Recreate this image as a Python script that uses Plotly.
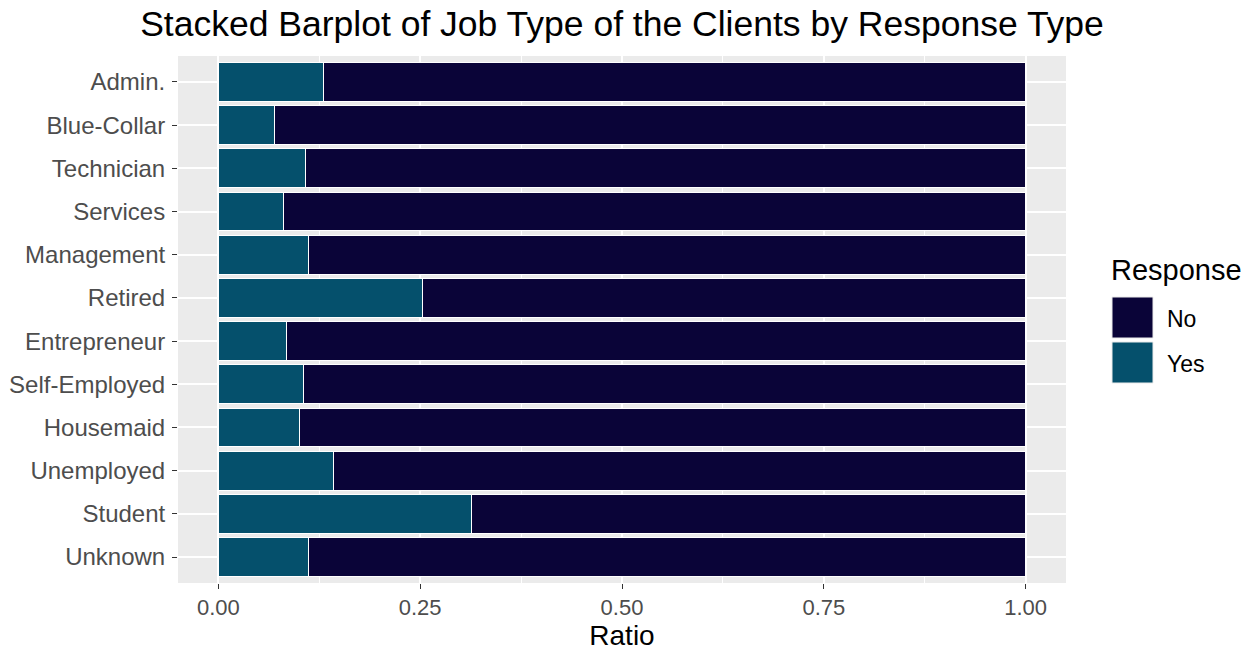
import plotly.graph_objects as go

jobs = ["Admin.", "Blue-Collar", "Technician", "Services", "Management", "Retired",
        "Entrepreneur", "Self-Employed", "Housemaid", "Unemployed", "Student", "Unknown"]
yes_ratio = [0.130, 0.069, 0.108, 0.081, 0.112, 0.253,
             0.085, 0.105, 0.100, 0.142, 0.314, 0.112]
no_ratio = [round(1 - v, 3) for v in yes_ratio]
responses = ["No", "Yes"]
colors = {"No": "#0A0438", "Yes": "#05506C"}

W, H = 1255, 657
L, R, T, B = 178, 1066, 56, 583


def px(x):
    return (x - L) / (R - L)


def py(y):
    return (B - y) / (B - T)


fig = go.Figure()
# Yes drawn first so it sits at x=0, No stacked on top
fig.add_trace(go.Bar(y=jobs, x=yes_ratio, orientation="h", name="Yes",
                     marker=dict(color=colors["Yes"], line=dict(color="white", width=1)),
                     showlegend=False))
fig.add_trace(go.Bar(y=jobs, x=no_ratio, orientation="h", name="No",
                     marker=dict(color=colors["No"], line=dict(color="white", width=1)),
                     showlegend=False))

font = "Liberation Sans, Arial, sans-serif"

fig.update_layout(
    barmode="stack", bargap=0.1,
    width=W, height=H,
    margin=dict(l=L, r=W - R, t=T, b=H - B, autoexpand=False),
    paper_bgcolor="white", plot_bgcolor="#EBEBEB",
    font=dict(family=font),
    title=dict(text="Stacked Barplot of Job Type of the Clients by Response Type",
               x=px(622), xref="paper", xanchor="center", y=1 - 24 / H, yanchor="middle",
               font=dict(size=35.5, color="black")),
)
fig.update_xaxes(range=[-0.05, 1.05], tickvals=[0, 0.25, 0.5, 0.75, 1.0],
                 ticktext=["0.00", "0.25", "0.50", "0.75", "1.00"],
                 showgrid=True, gridcolor="white", gridwidth=1.5,
                 minor=dict(tickvals=[0.125, 0.375, 0.625, 0.875], showgrid=True,
                            gridcolor="white", gridwidth=0.7),
                 ticks="outside", ticklen=5, tickcolor="#333333", tickwidth=1,
                 tickfont=dict(size=22, color="#4D4D4D"), zeroline=False, automargin=False,
                 title=dict(text="Ratio", font=dict(size=28, color="black"), standoff=4))
fig.update_yaxes(categoryorder="array", categoryarray=list(reversed(jobs)),
                 range=[-0.6, 11.6], showgrid=True, gridcolor="white", gridwidth=1.5,
                 ticks="outside", ticklen=5, tickcolor="#333333", tickwidth=1,
                 ticklabelstandoff=2, automargin=False,
                 tickfont=dict(size=24, color="#4D4D4D"))

# legend drawn manually to match ggplot key sizes
fig.add_annotation(text="Response", xref="paper", yref="paper", x=px(1109), y=py(270),
                   xanchor="left", yanchor="middle", showarrow=False,
                   font=dict(size=29, color="black"))
key_tops = [297, 342]
for resp, top in zip(responses, key_tops):
    fig.add_shape(type="rect", xref="paper", yref="paper",
                  x0=px(1112), x1=px(1153), y0=py(top), y1=py(top + 41),
                  fillcolor=colors[resp], line=dict(color="#EBEBEB", width=1))
    fig.add_annotation(text=resp, xref="paper", yref="paper", x=px(1165), y=py(top + 22),
                       xanchor="left", yanchor="middle", showarrow=False,
                       font=dict(size=23, color="black"))

fig.write_html("out.html", config={"displayModeBar": False},
               post_script="document.body.style.margin='0';")
